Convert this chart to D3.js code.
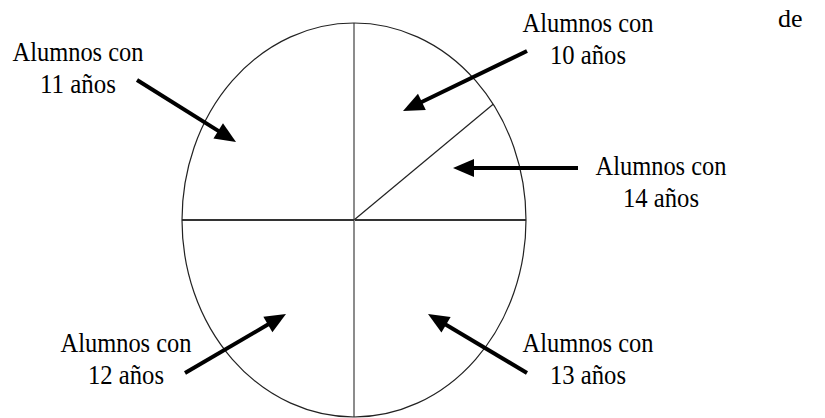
<!DOCTYPE html>
<html>
<head>
<meta charset="utf-8">
<script src="https://cdn.jsdelivr.net/npm/d3@7"></script>
<style>
  html, body { margin: 0; padding: 0; background: #fff; }
  svg { display: block; }
</style>
</head>
<body>
<svg id="chart" width="825" height="418"></svg>
<script>
// ---- data ----
const ages = [10, 14, 13, 12, 11];           // slice order, clockwise from top
const values = [15, 10, 25, 25, 25];         // share of pupils (%)
const labelLine1 = "Alumnos con";
const labelUnit = "años";
const strayText = "de";

// ---- layout (annotation placement, not data) ----
const W = 825, H = 418;
const cx = 354, cy = 220, rx = 172, ry = 197;
// label centre x, first baseline y, arrow tail, arrow tip  (per age)
const annotations = {
  10: { lx: 588, ly: 32,  tail: [527, 51],  tip: [403, 111] },
  14: { lx: 661, ly: 175, tail: [578, 168], tip: [453, 168] },
  13: { lx: 588, ly: 352, tail: [527, 373], tip: [428, 314] },
  12: { lx: 126, ly: 352, tail: [185, 373], tip: [286, 314] },
  11: { lx: 78,  ly: 61,  tail: [137, 80],  tip: [236, 142] }
};

const svg = d3.select("#chart");
svg.append("rect").attr("width", W).attr("height", H).attr("fill", "#fff");

const pie = d3.pie().sort(null).value(d => d);
const arcs = pie(values);
const arc = d3.arc().innerRadius(0).outerRadius(rx);

const g = svg.append("g")
  .attr("transform", `translate(${cx},${cy}) scale(1,${ry / rx})`);

g.selectAll("path.slice")
  .data(arcs)
  .join("path")
  .attr("class", "slice")
  .attr("d", arc)
  .attr("fill", "#fff")
  .attr("stroke", "none");

// radial boundaries
const norm = a => ((a % (2 * Math.PI)) + 2 * Math.PI) % (2 * Math.PI);
const isVert = a => { const n = norm(a); return Math.abs(n) < 1e-6 || Math.abs(n - Math.PI) < 1e-6; };
const isHorz = a => { const n = norm(a); return Math.abs(n - Math.PI / 2) < 1e-6 || Math.abs(n - 3 * Math.PI / 2) < 1e-6; };
const boundaries = arcs.map(a => a.startAngle);
svg.append("g").selectAll("line")
  .data(boundaries)
  .join("line")
  .attr("x1", cx).attr("y1", cy)
  .attr("x2", a => cx + Math.sin(a) * rx)
  .attr("y2", a => cy - Math.cos(a) * ry)
  .attr("stroke", a => isVert(a) ? "#8c8c8c" : isHorz(a) ? "#333" : "#222")
  .attr("stroke-width", a => isVert(a) ? 2 : isHorz(a) ? 1.8 : 1.2);

// outline
svg.append("ellipse")
  .attr("cx", cx).attr("cy", cy).attr("rx", rx).attr("ry", ry)
  .attr("fill", "none").attr("stroke", "#222").attr("stroke-width", 1.2);

// arrows + labels
const ann = svg.append("g");
ages.forEach(age => {
  const a = annotations[age];
  const [x0, y0] = a.tail, [x1, y1] = a.tip;
  const dx = x1 - x0, dy = y1 - y0, len = Math.hypot(dx, dy);
  const ux = dx / len, uy = dy / len;
  const headL = 21, headW = 9;
  const bx = x1 - ux * headL, by = y1 - uy * headL;
  ann.append("line")
    .attr("x1", x0).attr("y1", y0)
    .attr("x2", bx + ux * 2).attr("y2", by + uy * 2)
    .attr("stroke", "#000").attr("stroke-width", 4);
  ann.append("path")
    .attr("d", `M${x1},${y1}L${bx - uy * headW},${by + ux * headW}L${bx + uy * headW},${by - ux * headW}Z`)
    .attr("fill", "#000");

  const t = ann.append("g")
    .attr("font-family", "'Liberation Serif', 'DejaVu Serif', serif")
    .attr("font-size", 27)
    .attr("fill", "#000")
    .attr("text-anchor", "middle");
  t.append("text")
    .attr("x", a.lx).attr("y", a.ly)
    .attr("textLength", 131).attr("lengthAdjust", "spacingAndGlyphs")
    .text(labelLine1);
  t.append("text")
    .attr("x", a.lx).attr("y", a.ly + 32)
    .attr("textLength", 76).attr("lengthAdjust", "spacingAndGlyphs")
    .text(`${age} ${labelUnit}`);
});

svg.append("text")
  .attr("x", 778).attr("y", 27)
  .attr("font-family", "'Liberation Serif', 'Times New Roman', serif")
  .attr("font-size", 26)
  .attr("fill", "#000")
  .text(strayText);
</script>
</body>
</html>
